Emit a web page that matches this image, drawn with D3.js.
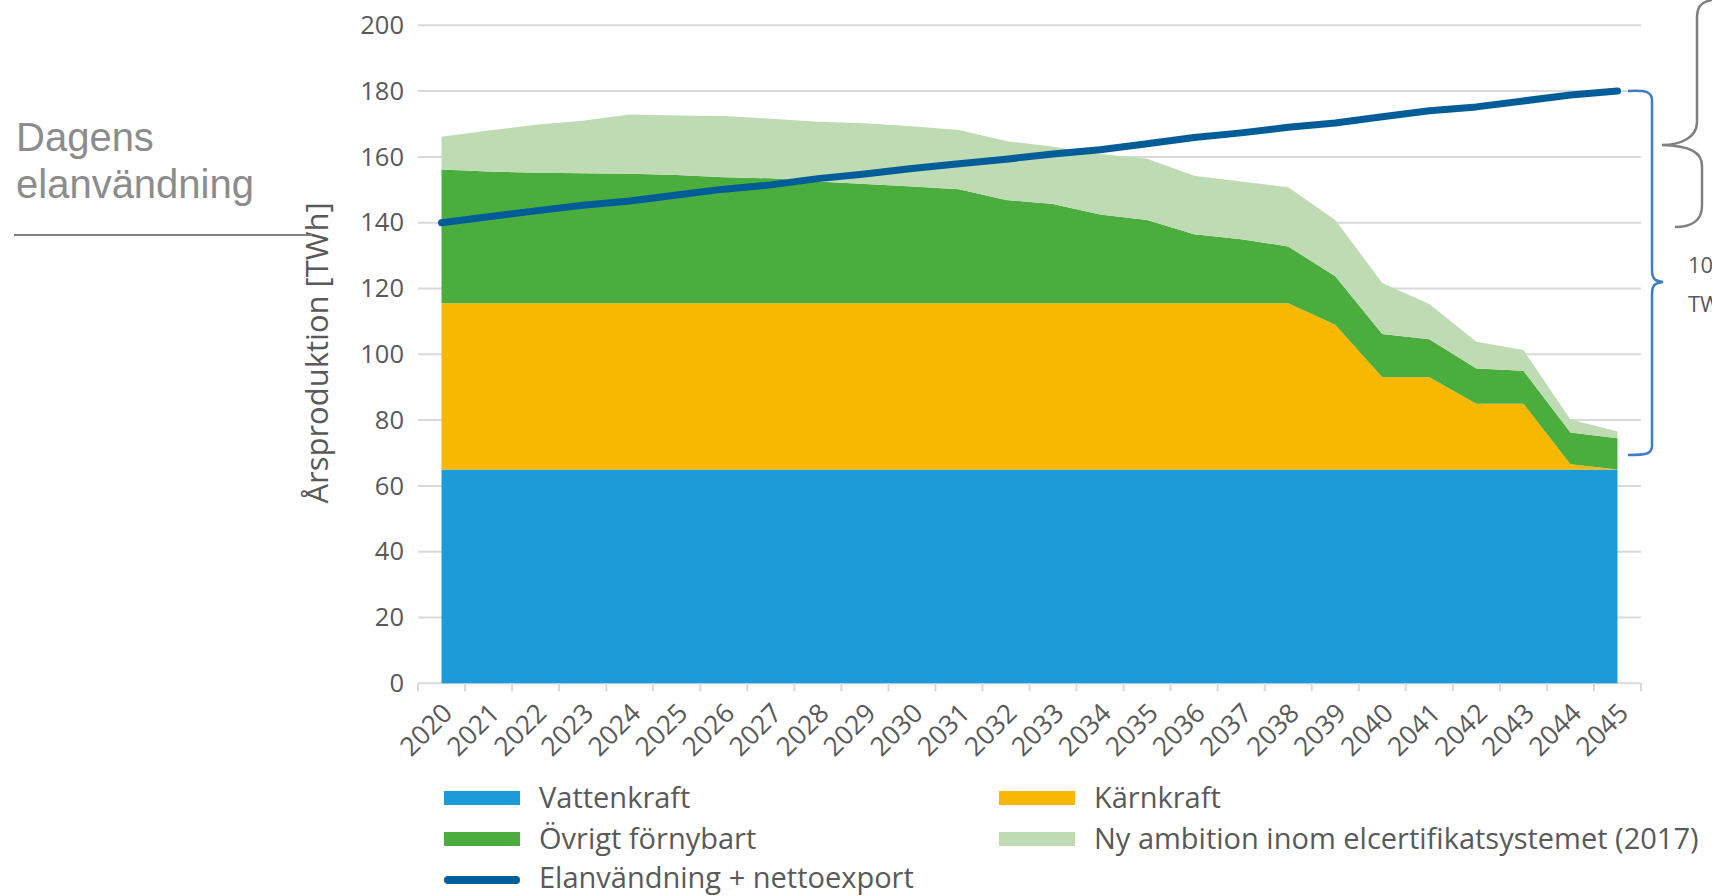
<!DOCTYPE html>
<html>
<head>
<meta charset="utf-8">
<script src="https://cdn.jsdelivr.net/npm/d3@7/dist/d3.min.js"></script>
<style>
body { margin: 0; background: #fff; }
text { font-family: "Open Sans", sans-serif; }
</style>
</head>
<body>
<script>
// arsproduktion per kraftslag, TWh (avlast ur bilden)
var years = [2020, 2021, 2022, 2023, 2024, 2025, 2026, 2027, 2028, 2029, 2030, 2031, 2032,
             2033, 2034, 2035, 2036, 2037, 2038, 2039, 2040, 2041, 2042, 2043, 2044, 2045];
var vattenkraft = [65, 65, 65, 65, 65, 65, 65, 65, 65, 65, 65, 65, 65,
                   65, 65, 65, 65, 65, 65, 65, 65, 65, 65, 65, 65, 65];
var karnkraft = [50.5, 50.5, 50.5, 50.5, 50.5, 50.5, 50.5, 50.5, 50.5, 50.5, 50.5, 50.5, 50.5,
                 50.5, 50.5, 50.5, 50.5, 50.5, 50.5, 44, 28, 28, 20, 20, 1.6, 0];
var ovrigtFornybart = [40.7, 40.1, 39.7, 39.5, 39.4, 39.0, 38.3, 38.0, 37.0, 36.3, 35.5, 34.7, 31.4,
                       30.2, 27.0, 25.3, 21.0, 19.5, 17.3, 14.7, 13.2, 11.6, 10.7, 10.0, 9.6, 9.5];
var nyAmbition = [9.9, 12.4, 14.6, 16.0, 18.0, 18.1, 18.6, 18.1, 18.2, 18.4, 18.3, 18.0, 17.9,
                  17.4, 18.4, 18.6, 17.8, 17.5, 18.0, 17.1, 15.5, 10.7, 8.1, 6.3, 4.0, 2.0];
var elanvandning = [140.0, 141.8, 143.6, 145.3, 146.6, 148.4, 150.2, 151.5, 153.4, 154.8, 156.5, 157.9, 159.3,
                    160.9, 162.2, 164.0, 165.9, 167.3, 169.0, 170.3, 172.2, 174.0, 175.2, 177.0, 178.8, 180.0];
var yTicks = [0, 20, 40, 60, 80, 100, 120, 140, 160, 180, 200];

var keys = ['vatten', 'karn', 'ovrigt', 'ny'];
var colors = {vatten: '#1b9bd7', karn: '#f9b800', ovrigt: '#4aad3e', ny: '#bedbb3'};
var lineColor = '#005d98';

var rows = years.map(function(yr, i) {
  return {year: yr, vatten: vattenkraft[i], karn: karnkraft[i], ovrigt: ovrigtFornybart[i], ny: nyAmbition[i]};
});

var W = 1712, H = 896;
var svg = d3.select('body').append('svg')
  .attr('width', W).attr('height', H);

var x = d3.scaleBand().domain(years).range([418, 1641]).padding(0);
var bw = x.bandwidth();
var y = d3.scaleLinear().domain([0, 200]).range([683.3, 25.3]);
function cx(yr) { return x(yr) + bw / 2; }

// rutnat
svg.append('g').selectAll('line')
  .data(yTicks).enter().append('line')
  .attr('x1', 418).attr('x2', 1641)
  .attr('y1', function(d) { return y(d); })
  .attr('y2', function(d) { return y(d); })
  .style('stroke', '#d9d9d9')
  .style('stroke-width', 2);

// y-axel med etiketter
var yAxis = svg.append('g')
  .attr('transform', 'translate(418,0)')
  .call(d3.axisLeft(y).tickValues(yTicks).tickSize(0).tickPadding(14));
yAxis.select('.domain').remove();
yAxis.selectAll('text')
  .style('font-family', '"Open Sans", sans-serif')
  .style('font-size', '25.5px')
  .style('fill', '#595959');

// staplade ytor
var stack = d3.stack().keys(keys);
var series = stack(rows);
var area = d3.area()
  .x(function(d) { return cx(d.data.year); })
  .y0(function(d) { return y(d[0]); })
  .y1(function(d) { return y(d[1]); });

svg.append('g').selectAll('path')
  .data(series).enter().append('path')
  .attr('d', area)
  .style('fill', function(d) { return colors[d.key]; });

// x-axel, streck mellan kategorierna
var tickPos = years.map(function(yr) { return x(yr); }).concat([x.range()[1]]);
svg.append('g').selectAll('line')
  .data(tickPos).enter().append('line')
  .attr('x1', function(d) { return d; })
  .attr('x2', function(d) { return d; })
  .attr('y1', y(0)).attr('y2', y(0) + 8)
  .style('stroke', '#d9d9d9')
  .style('stroke-width', 2);

var xAxis = svg.append('g')
  .attr('transform', 'translate(0,' + y(0) + ')')
  .call(d3.axisBottom(x).tickSize(0).tickPadding(0));
xAxis.select('.domain').remove();
xAxis.selectAll('text')
  .attr('transform', 'translate(6,25) rotate(-45)')
  .attr('dy', '0.35em')
  .attr('y', 0)
  .style('text-anchor', 'end')
  .style('font-family', '"Open Sans", sans-serif')
  .style('font-size', '26.5px')
  .style('fill', '#595959');

// elanvandning + nettoexport
var line = d3.line()
  .x(function(d, i) { return cx(years[i]); })
  .y(function(d) { return y(d); });
svg.append('path')
  .datum(elanvandning)
  .attr('d', line)
  .style('fill', 'none')
  .style('stroke', lineColor)
  .style('stroke-width', 7)
  .style('stroke-linecap', 'round')
  .style('stroke-linejoin', 'round');

// y-axelns titel
svg.append('text')
  .attr('transform', 'translate(328,353) rotate(-90)')
  .style('text-anchor', 'middle')
  .style('font-size', '31px')
  .style('fill', '#595959')
  .text('Årsproduktion [TWh]');

// kommentar till vanster
var note = svg.append('text')
  .style('font-family', '"Liberation Sans", Arial, sans-serif')
  .style('font-size', '40px')
  .style('fill', '#8c8c8c');
note.append('tspan').attr('x', 16).attr('y', 151).text('Dagens');
note.append('tspan').attr('x', 16).attr('y', 198).text('elanvändning');
svg.append('line')
  .attr('x1', 14).attr('x2', 312)
  .attr('y1', 235).attr('y2', 235)
  .style('stroke', '#808080')
  .style('stroke-width', 2);

// klamrar till hoger
svg.append('path')
  .attr('d', 'M1712,0 C1700,2 1697,8 1697,18 L1697,122 C1697,138 1680,145 1662,145 ' +
             'C1690,146 1702,152 1702,166 L1702,206 C1702,220 1692,227 1675,227')
  .style('fill', 'none')
  .style('stroke', '#7f7f7f')
  .style('stroke-width', 2.5);

svg.append('path')
  .attr('d', 'M1628,91 C1646,90 1652,92 1652,100 L1652,270 C1652,279 1655,281 1663,282 ' +
             'C1655,283 1652,285 1652,294 L1652,446 C1652,454 1646,455 1628,455')
  .style('fill', 'none')
  .style('stroke', '#3d7cc9')
  .style('stroke-width', 2.5);

var note2 = svg.append('text')
  .style('font-size', '22px')
  .style('fill', '#595959');
note2.append('tspan').attr('x', 1688).attr('y', 273).text('100');
note2.append('tspan').attr('x', 1688).attr('y', 312).text('TWh');

// teckenforklaring
var legendItems = [
  {name: 'Vattenkraft', color: colors.vatten, type: 'rect', col: 0, row: 0},
  {name: 'Kärnkraft', color: colors.karn, type: 'rect', col: 1, row: 0},
  {name: 'Övrigt förnybart', color: colors.ovrigt, type: 'rect', col: 0, row: 1},
  {name: 'Ny ambition inom elcertifikatsystemet (2017)', color: colors.ny, type: 'rect', col: 1, row: 1},
  {name: 'Elanvändning + nettoexport', color: lineColor, type: 'line', col: 0, row: 2}
];
var colX = [444, 999];
var rowY = [798, 839, 878];

var leg = svg.append('g').selectAll('g')
  .data(legendItems).enter().append('g')
  .attr('transform', function(d) { return 'translate(' + colX[d.col] + ',' + rowY[d.row] + ')'; });

leg.filter(function(d) { return d.type === 'rect'; }).append('rect')
  .attr('x', 0).attr('y', -7).attr('width', 76).attr('height', 14)
  .style('fill', function(d) { return d.color; });

leg.filter(function(d) { return d.type === 'line'; }).append('line')
  .attr('x1', 4).attr('x2', 72).attr('y1', 2).attr('y2', 2)
  .style('stroke', function(d) { return d.color; })
  .style('stroke-width', 8)
  .style('stroke-linecap', 'round');

leg.append('text')
  .attr('x', 95).attr('y', 0).attr('dy', '0.35em')
  .style('font-size', '29px')
  .style('fill', '#595959')
  .text(function(d) { return d.name; });
</script>
</body>
</html>
